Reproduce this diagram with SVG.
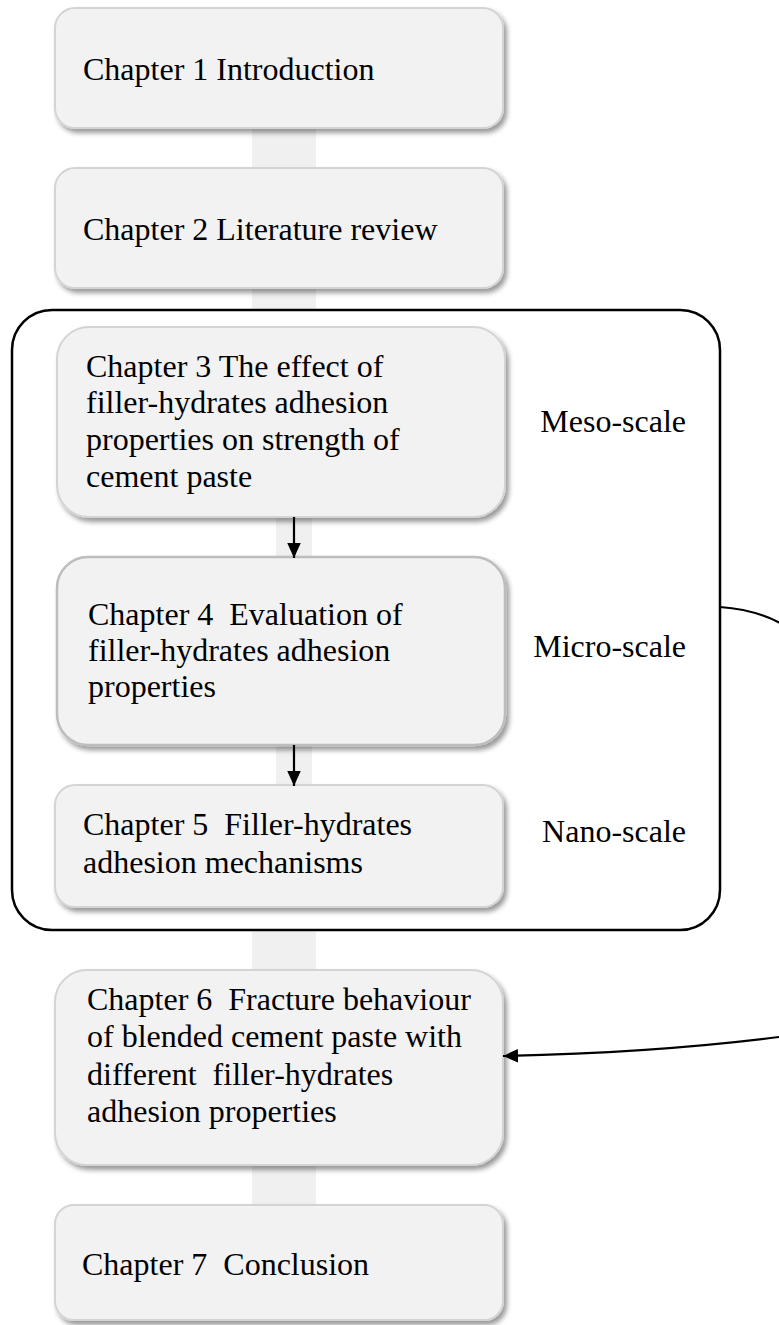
<svg xmlns="http://www.w3.org/2000/svg" width="779" height="1325" viewBox="0 0 779 1325">
  <style>
    .box { fill: #f2f2f2; stroke: #d4d4d4; stroke-width: 2; filter: url(#shadow); }
    .box4 { fill: #f2f2f2; stroke: #bdbdbd; stroke-width: 2.5; filter: url(#shadow); }
    .bar { fill: #f0f0f0; }
    .nbar { fill: #f0f0f0; }
    .t { font-family: "Liberation Serif", "Times New Roman", serif; font-size: 32px; fill: #000; }
    .lbl { font-family: "Liberation Serif", "Times New Roman", serif; font-size: 32px; fill: #000; text-anchor: end; }
    .arrow { stroke: #000; stroke-width: 2.2; fill: none; marker-end: url(#ah); }
  </style>
  <defs>
    <filter id="shadow" x="-10%" y="-10%" width="125%" height="130%">
      <feDropShadow dx="3" dy="4" stdDeviation="2.5" flood-color="#000" flood-opacity="0.4"/>
    </filter>
    <marker id="ah" viewBox="0 0 10 10" refX="10" refY="5" markerWidth="15" markerHeight="15" markerUnits="userSpaceOnUse" orient="auto">
      <path d="M0,0.5 L10,5 L0,9.5 z" fill="#000"/>
    </marker>
  </defs>

  <g id="bars">
    <rect class="bar" x="252" y="126" width="64" height="44"/>
    <rect class="bar" x="252" y="286" width="64" height="44"/>
    <rect class="bar" x="252" y="905" width="64" height="68"/>
    <rect class="bar" x="252" y="1163" width="64" height="44"/>
  </g>

  <g id="frame">
    <rect x="12" y="310" width="708" height="620" rx="40" ry="40" fill="#fff" stroke="#000" stroke-width="2.5"/>
  </g>

  <g id="inner-bars">
    <rect class="nbar" x="276" y="515" width="36" height="44"/>
    <rect class="nbar" x="276" y="743" width="36" height="44"/>
  </g>

  <g id="ch1">
    <rect class="box" x="55" y="8" width="448" height="120" rx="20" ry="20"/>
    <text class="t" x="83" y="80">Chapter 1 Introduction</text>
  </g>
  <g id="ch2">
    <rect class="box" x="55" y="168" width="448" height="120" rx="20" ry="20"/>
    <text class="t" x="83" y="240">Chapter 2 Literature review</text>
  </g>
  <g id="ch3">
    <rect class="box" x="57" y="327" width="448" height="190" rx="32" ry="32"/>
    <text class="t" x="86" y="377">Chapter 3 The effect of</text>
    <text class="t" x="86" y="413">filler-hydrates adhesion</text>
    <text class="t" x="86" y="450">properties on strength of</text>
    <text class="t" x="86" y="487">cement paste</text>
  </g>
  <g id="ch4">
    <rect class="box4" x="57" y="557" width="448" height="188" rx="31" ry="31"/>
    <text class="t" x="88" y="625" xml:space="preserve">Chapter 4  Evaluation of</text>
    <text class="t" x="88" y="661">filler-hydrates adhesion</text>
    <text class="t" x="88" y="697">properties</text>
  </g>
  <g id="ch5">
    <rect class="box" x="55" y="785" width="448" height="122" rx="20" ry="20"/>
    <text class="t" x="83" y="835" xml:space="preserve">Chapter 5  Filler-hydrates</text>
    <text class="t" x="83" y="873">adhesion mechanisms</text>
  </g>
  <g id="ch6">
    <rect class="box" x="55" y="970" width="448" height="195" rx="32" ry="32"/>
    <text class="t" x="87" y="1010" xml:space="preserve">Chapter 6  Fracture behaviour</text>
    <text class="t" x="87" y="1047">of blended cement paste with</text>
    <text class="t" x="87" y="1085" xml:space="preserve">different  filler-hydrates</text>
    <text class="t" x="87" y="1122">adhesion properties</text>
  </g>
  <g id="ch7">
    <rect class="box" x="55" y="1205" width="448" height="115" rx="19" ry="19"/>
    <text class="t" x="82" y="1275" xml:space="preserve">Chapter 7  Conclusion</text>
  </g>

  <g id="scale-labels">
    <text class="lbl" x="686" y="432">Meso-scale</text>
    <text class="lbl" x="686" y="657">Micro-scale</text>
    <text class="lbl" x="686" y="842">Nano-scale</text>
  </g>

  <g id="connectors">
    <line class="arrow" x1="294" y1="517" x2="294" y2="558"/>
    <line class="arrow" x1="294" y1="745" x2="294" y2="786"/>
    <path class="arrow" d="M720,607 C790,612 860,650 860,830 C860,1000 830,1030 779,1037 C700,1047 600,1054 503,1056"/>
  </g>
</svg>
